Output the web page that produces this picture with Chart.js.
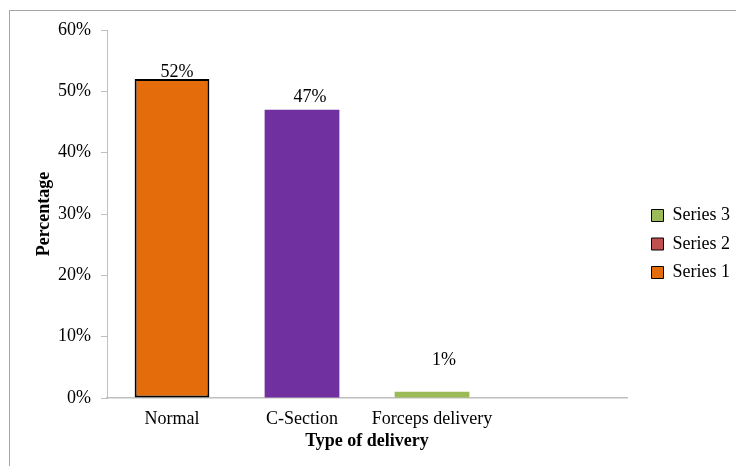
<!DOCTYPE html>
<html>
<head>
<meta charset="utf-8">
<script src="https://cdn.jsdelivr.net/npm/chart.js@4"></script>
<style>
  html, body { margin: 0; padding: 0; background: #fff; }
  #wrap { width: 736px; height: 466px; }
</style>
</head>
<body>
<div id="wrap"><canvas id="chart" width="736" height="466"></canvas></div>
<script>
const categories = ['Normal', 'C-Section', 'Forceps delivery', ''];
const seriesNames = ['Series 1', 'Series 2', 'Series 3'];
const series1 = [52, 47, 1, null];
const series2 = [null, null, null, null];
const series3 = [null, null, null, null];
const pointColors = ['#E46C0A', '#7030A0', '#9BBB59', '#E46C0A'];
const seriesColors = ['#E46C0A', '#C0504D', '#9BBB59'];
const yTicks = [0, 10, 20, 30, 40, 50, 60];

const serif = '"Liberation Serif", "Times New Roman", serif';
const axisGrey = '#BFBFBF';

// outer frame of the chart object, runs off the right and bottom edges
const framePlugin = {
  id: 'frame',
  beforeDraw(chart) {
    const ctx = chart.ctx;
    ctx.save();
    ctx.strokeStyle = '#A6A6A6';
    ctx.lineWidth = 1;
    ctx.strokeRect(9.5, 10.5, 800, 500);
    ctx.restore();
  }
};

// nudge the legend box away from the plot, like the Excel layout
const legendNudge = {
  id: 'legendNudge',
  afterLayout(chart, args, opts) {
    const lg = chart.legend;
    if (!lg) return;
    lg.left += opts.dx; lg.right += opts.dx;
    lg.top += opts.dy; lg.bottom += opts.dy;
  }
};

// value labels over the bars (hand-placed in the original, so small nudges)
const valueLabels = {
  id: 'valueLabels',
  afterDatasetsDraw(chart, args, opts) {
    const ctx = chart.ctx;
    const meta = chart.getDatasetMeta(0);
    ctx.save();
    ctx.font = '18px ' + serif;
    ctx.fillStyle = '#000';
    ctx.textAlign = 'center';
    ctx.textBaseline = 'middle';
    meta.data.forEach((bar, i) => {
      const v = series1[i];
      if (v == null) return;
      ctx.fillText(v + '%', bar.x + (opts.dx[i] || 0), bar.y - (opts.lift[i] || 0));
    });
    ctx.restore();
  }
};

new Chart(document.getElementById('chart'), {
  type: 'bar',
  data: {
    labels: categories,
    datasets: [
      {
        label: seriesNames[0],
        data: series1,
        backgroundColor: pointColors,
        borderColor: ['#000', 'rgba(0,0,0,0)', 'rgba(0,0,0,0)', 'rgba(0,0,0,0)'],
        borderWidth: [2, 0, 0, 0],
        borderSkipped: false
      },
      { label: seriesNames[1], data: series2, backgroundColor: seriesColors[1] },
      { label: seriesNames[2], data: series3, backgroundColor: seriesColors[2] }
    ]
  },
  options: {
    responsive: false,
    animation: false,
    grouped: false,
    categoryPercentage: 1,
    barPercentage: 0.575,
    layout: { padding: { top: 30, right: 10, bottom: 0, left: 0 } },
    scales: {
      x: {
        grid: { display: false, drawTicks: false },
        border: { color: axisGrey, width: 1.5 },
        ticks: { color: '#000', font: { family: serif, size: 18 }, padding: 10, maxRotation: 0 },
        title: {
          display: true,
          text: 'Type of delivery',
          color: '#000',
          font: { family: serif, size: 18, weight: 'bold' },
          padding: { top: 0, bottom: 14 }
        },
        afterFit(scale) { scale.height = 68; }
      },
      y: {
        min: 0,
        max: 60,
        afterBuildTicks(scale) { scale.ticks = yTicks.map(v => ({ value: v })); },
        grid: { drawOnChartArea: false, drawTicks: true, tickLength: 6, color: axisGrey },
        border: { color: axisGrey },
        ticks: { color: '#000', font: { family: serif, size: 18 }, padding: 10, callback: v => v + '%' },
        title: {
          display: true,
          text: 'Percentage',
          color: '#000',
          font: { family: serif, size: 18, weight: 'bold' },
          padding: { top: 34, bottom: 0 }
        },
        afterFit(scale) { scale.width = 107; }
      }
    },
    plugins: {
      legend: {
        position: 'right',
        reverse: true,
        labels: {
          color: '#000',
          font: { family: serif, size: 18 },
          boxWidth: 12,
          boxHeight: 12,
          padding: 10.5,
          generateLabels() {
            return seriesNames.map((name, i) => ({
              text: name,
              fillStyle: seriesColors[i],
              strokeStyle: '#000',
              lineWidth: 1,
              datasetIndex: i,
              hidden: false
            }));
          }
        }
      },
      tooltip: { enabled: false },
      legendNudge: { dx: 14, dy: -4 },
      valueLabels: { dx: [5, 8, 12], lift: [7, 12.5, 32] }
    }
  },
  plugins: [framePlugin, legendNudge, valueLabels]
});
</script>
</body>
</html>
